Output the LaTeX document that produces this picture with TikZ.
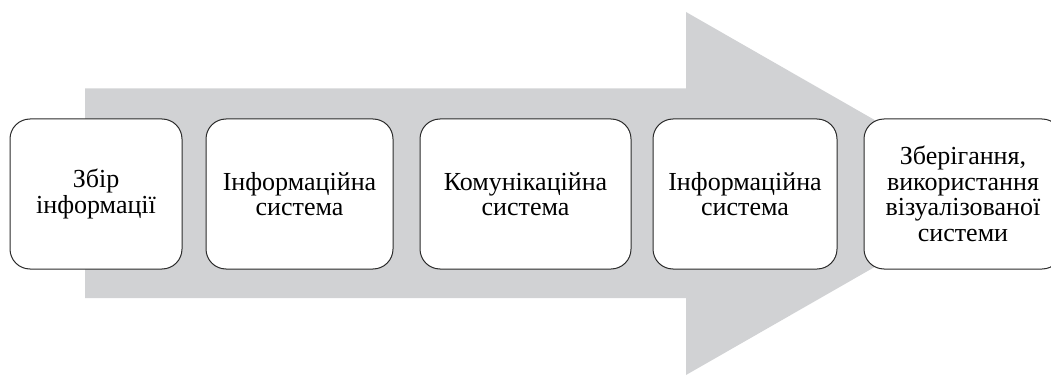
\documentclass[tikz,border=0pt]{standalone}
\usepackage{fontspec}
\setmainfont{Liberation Serif}
\definecolor{arrowgrey}{HTML}{D1D2D4}
\definecolor{edge}{HTML}{2B2B2B}
\begin{document}
\begin{tikzpicture}[x=1pt,y=1pt,
  stage/.style={draw=edge, line width=1pt, fill=white, rounded corners=20pt,
    align=center, inner sep=0pt, minimum height=150pt,
    font=\fontsize{26}{25.5}\selectfont, text=black}]
\clip (0,0) rectangle (1051,378);
\useasboundingbox (0,0) rectangle (1051,378);
% big grey arrow
\fill[arrowgrey] (85,289.5) -- (686,289.5) -- (686,366) -- (1003,184.5)
  -- (686,3) -- (686,80) -- (85,80) -- cycle;
% stages
\node[stage, minimum width=172pt] (s1) at (96,184) {Збір\\інформації};
\node[stage, minimum width=187pt] (s2) at (299.5,184) {Інформаційна\\система};
\node[stage, minimum width=211pt] (s3) at (525.5,184) {Комунікаційна\\система};
\node[stage, minimum width=184pt] (s4) at (745,184) {Інформаційна\\система};
\node[stage, minimum width=198pt] (s5) at (963,184)
  {Зберігання,\\використання\\візуалізованої\\системи};
\end{tikzpicture}
\end{document}
